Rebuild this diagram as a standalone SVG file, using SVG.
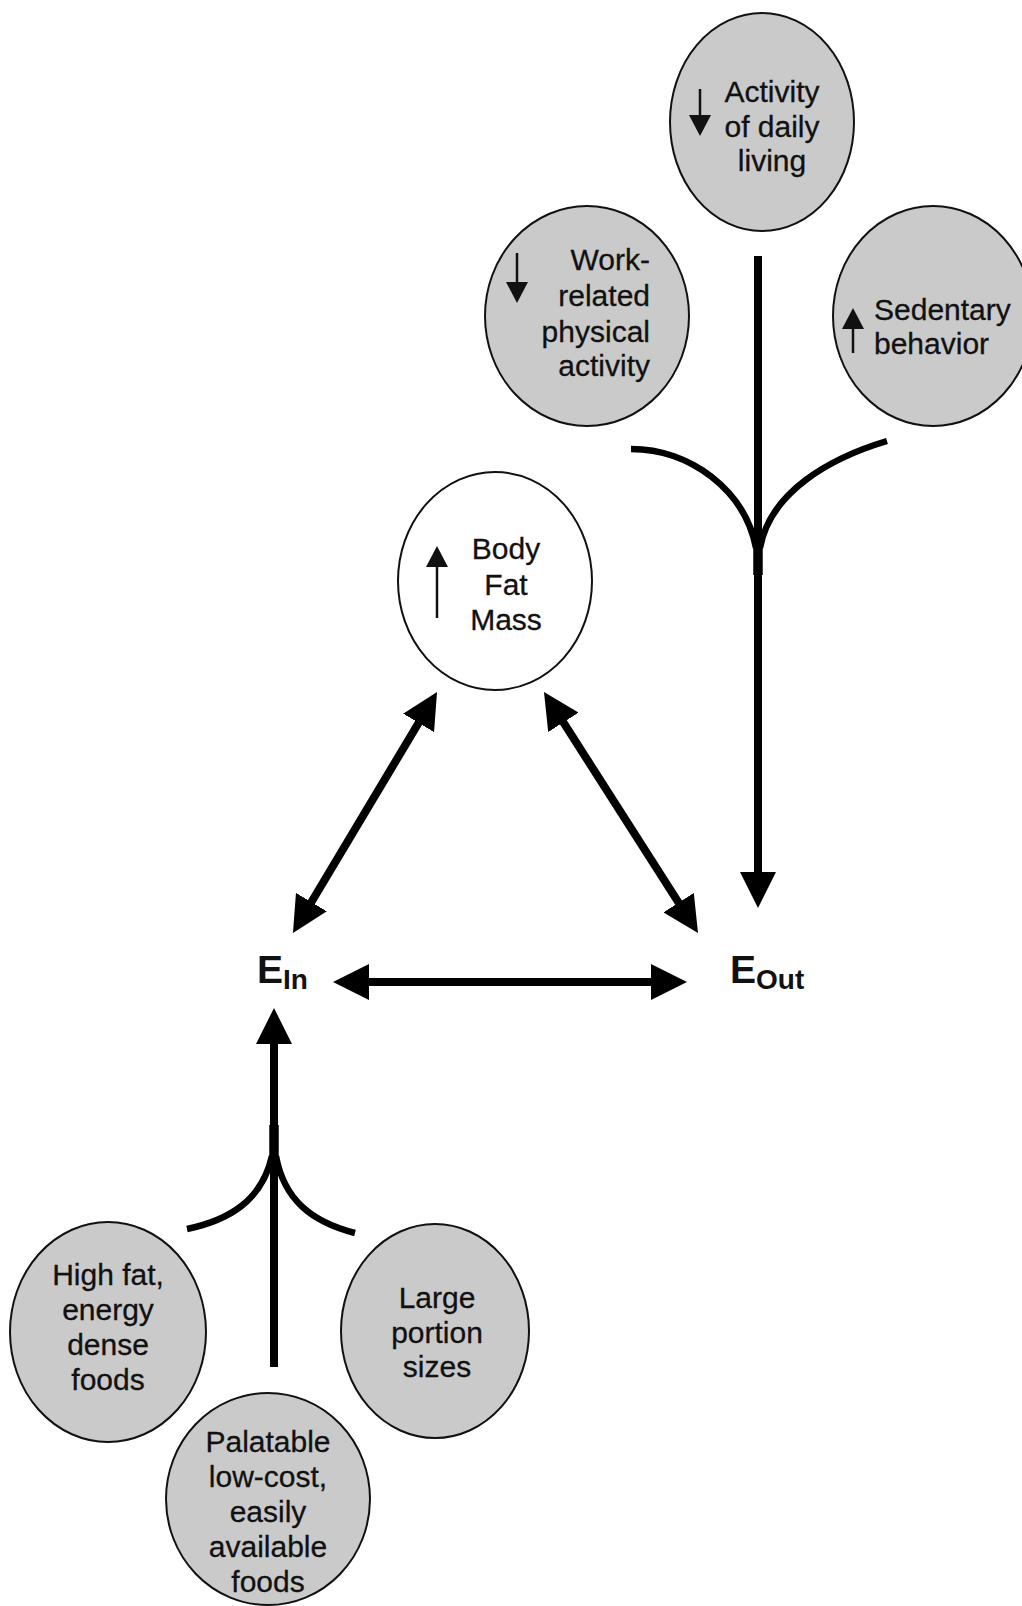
<svg xmlns="http://www.w3.org/2000/svg" width="1022" height="1606" viewBox="0 0 1022 1606">
<style>
.node{fill:#cacaca;stroke:#111;stroke-width:2}
.white{fill:#fff;stroke:#111;stroke-width:2}
.t{font-family:"Liberation Sans",Arial,sans-serif;font-size:30px;fill:#111;stroke:#111;stroke-width:0.3}
.c{text-anchor:middle}
.e{text-anchor:end}
.big{font-family:"Liberation Sans",Arial,sans-serif;font-weight:bold;fill:#111}
.conn{stroke:#000;stroke-width:8;fill:none}
.curve{stroke:#000;stroke-width:6.5;fill:none;stroke-linecap:butt}
.small{stroke:#111;stroke-width:2.5;fill:none}
</style>
<defs>
<marker id="ah" viewBox="0 0 36 36" refX="2" refY="18" markerWidth="36" markerHeight="36" markerUnits="userSpaceOnUse" orient="auto-start-reverse">
<path d="M0,0 L36,18 L0,36 z" fill="#000"/>
</marker>
<marker id="sh" viewBox="0 0 22 22" refX="1" refY="11" markerWidth="22" markerHeight="22" markerUnits="userSpaceOnUse" orient="auto">
<path d="M0,0 L21,11 L0,22 z" fill="#111"/>
</marker>
</defs>

<g id="node-activity-daily">
<ellipse class="node" cx="762" cy="122" rx="92" ry="109"/>
<line class="small" x1="700" y1="89" x2="700" y2="116" marker-end="url(#sh)"/>
<text class="t c" x="772" y="102">Activity</text>
<text class="t c" x="772" y="137">of daily</text>
<text class="t c" x="772" y="171">living</text>
</g>

<g id="node-work">
<ellipse class="node" cx="587" cy="316" rx="102" ry="110"/>
<line class="small" x1="517" y1="253" x2="517" y2="283" marker-end="url(#sh)"/>
<text class="t e" x="650" y="270">Work-</text>
<text class="t e" x="650" y="306">related</text>
<text class="t e" x="650" y="342">physical</text>
<text class="t e" x="650" y="376">activity</text>
</g>

<g id="node-sedentary">
<ellipse class="node" cx="933" cy="316" rx="100" ry="110"/>
<line class="small" x1="853" y1="353" x2="853" y2="328" marker-end="url(#sh)"/>
<text class="t" x="874" y="320">Sedentary</text>
<text class="t" x="874" y="354">behavior</text>
</g>

<g id="node-bodyfat">
<ellipse class="white" cx="495" cy="581" rx="97" ry="109"/>
<line class="small" x1="437" y1="618" x2="437" y2="566" marker-end="url(#sh)"/>
<text class="t c" x="506" y="559">Body</text>
<text class="t c" x="506" y="595">Fat</text>
<text class="t c" x="506" y="630">Mass</text>
</g>

<g id="node-ein">
<text class="big" x="257" y="983" font-size="39">E<tspan font-size="28" dy="6">In</tspan></text>
</g>

<g id="node-eout">
<text class="big" x="730" y="983" font-size="39">E<tspan font-size="28" dy="6">Out</tspan></text>
</g>

<g id="node-highfat">
<ellipse class="node" cx="108" cy="1332" rx="98" ry="110"/>
<text class="t c" x="108" y="1285">High fat,</text>
<text class="t c" x="108" y="1320">energy</text>
<text class="t c" x="108" y="1355">dense</text>
<text class="t c" x="108" y="1390">foods</text>
</g>

<g id="node-large">
<ellipse class="node" cx="435" cy="1331" rx="94" ry="107"/>
<text class="t c" x="437" y="1308">Large</text>
<text class="t c" x="437" y="1343">portion</text>
<text class="t c" x="437" y="1377">sizes</text>
</g>

<g id="node-palatable">
<ellipse class="node" cx="268" cy="1499" rx="102" ry="106"/>
<text class="t c" x="268" y="1452">Palatable</text>
<text class="t c" x="268" y="1487">low-cost,</text>
<text class="t c" x="268" y="1522">easily</text>
<text class="t c" x="268" y="1557">available</text>
<text class="t c" x="268" y="1592">foods</text>
</g>

<g id="connectors">
<!-- top merge to E_out -->
<path class="curve" d="M631,449 C690,449 745,490 756,548"/>
<path class="curve" d="M887,441 C830,458 770,492 760,548"/>
<line class="conn" x1="758" y1="256" x2="758" y2="874" marker-end="url(#ah)"/>
<line stroke="#000" stroke-width="9.5" x1="758" y1="538" x2="758" y2="575"/>
<!-- triangle -->
<line class="conn" x1="367" y1="982" x2="653" y2="982" marker-start="url(#ah)" marker-end="url(#ah)"/>
<line class="conn" x1="310.4" y1="903.8" x2="419.6" y2="721.2" marker-start="url(#ah)" marker-end="url(#ah)"/>
<line class="conn" x1="562.3" y1="720.7" x2="679.7" y2="904.3" marker-start="url(#ah)" marker-end="url(#ah)"/>
<!-- bottom merge to E_in -->
<path class="curve" d="M187,1229 C230,1220 262,1200 272,1156"/>
<path class="curve" d="M355,1233 C312,1222 284,1200 276,1156"/>
<line class="conn" x1="274" y1="1367" x2="274" y2="1042" marker-end="url(#ah)"/>
<line stroke="#000" stroke-width="9.5" x1="274" y1="1125" x2="274" y2="1162"/>
</g>
</svg>
